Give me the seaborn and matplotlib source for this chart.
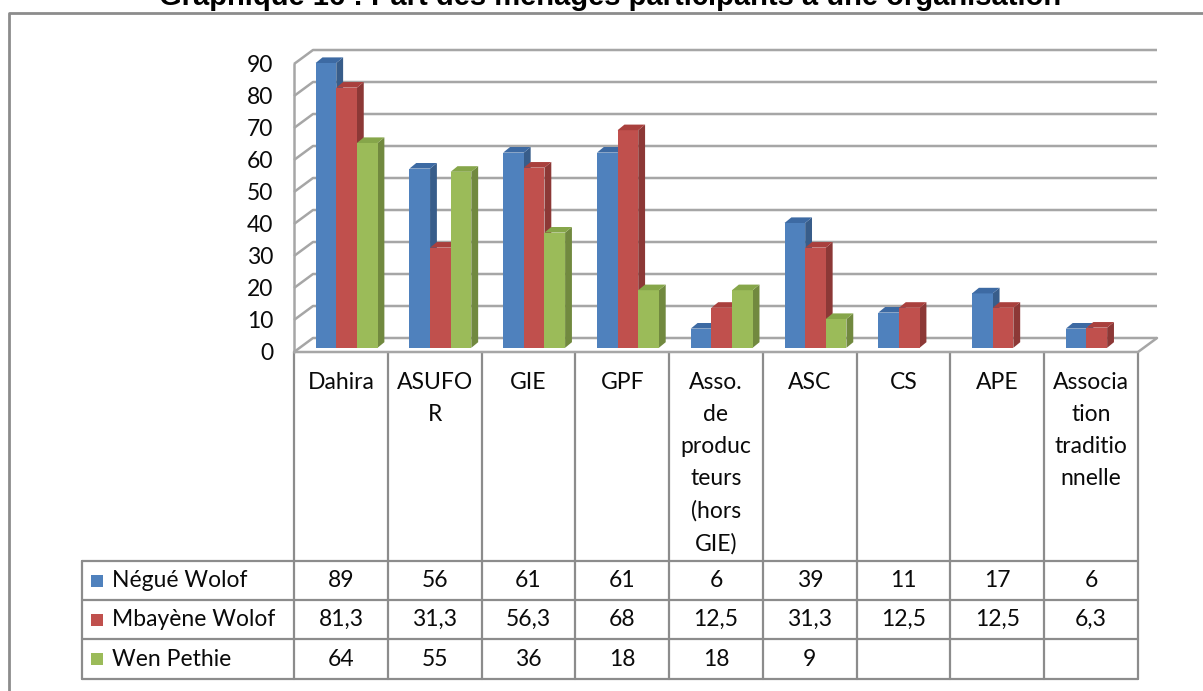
import numpy as np
import pandas as pd
import matplotlib
matplotlib.use("Agg")
import matplotlib.pyplot as plt
import seaborn as sns
from matplotlib.patches import Polygon, Rectangle

# data
categories = ["Dahira", "ASUFOR", "GIE", "GPF", "Asso. de producteurs (hors GIE)",
              "ASC", "CS", "APE", "Association traditionnelle"]
cat_labels = ["Dahira", "ASUFO\nR", "GIE", "GPF", "Asso.\nde\nproduc\nteurs\n(hors\nGIE)",
              "ASC", "CS", "APE", "Associa\ntion\ntraditio\nnnelle"]
series = ["Négué Wolof", "Mbayène Wolof", "Wen Pethie"]
negue_wolof = [89, 56, 61, 61, 6, 39, 11, 17, 6]
mbayene_wolof = [81.3, 31.3, 56.3, 68, 12.5, 31.3, 12.5, 12.5, 6.3]
wen_pethie = [64, 55, 36, 18, 18, 9, np.nan, np.nan, np.nan]
yticks = list(range(0, 100, 10))

colors = ["#4F81BD", "#C0504D", "#9BBB59"]
side_colors = ["#385D8A", "#8C3836", "#71893F"]
top_colors = ["#3D6AA3", "#A9403D", "#86A64A"]

W, H = 1203, 691
FONT = ["Lato", "DejaVu Sans"]
FS = 16.5
TXT = "#0A0A0A"
sns.set_theme(style="white")
plt.rcParams["font.family"] = FONT

fig = plt.figure(figsize=(W / 100, H / 100), dpi=100)

# background axes in pixel coordinates (top-left origin) for frame + table
bg = fig.add_axes([0, 0, 1, 1], zorder=0)
bg.set_xlim(0, W)
bg.set_ylim(H, 0)
bg.axis("off")

# plot area
x0, x1, yb, yt = 294, 1138, 352, 64
ax = fig.add_axes([x0 / W, 1 - yb / H, (x1 - x0) / W, (yb - yt) / H], zorder=2)
ax.patch.set_alpha(0)

df = pd.DataFrame({
    "cat": np.repeat(categories, 3),
    "serie": series * len(categories),
    "val": np.ravel(np.column_stack([negue_wolof, mbayene_wolof, wen_pethie])),
}).dropna()

sns.barplot(data=df, x="cat", y="val", hue="serie", order=categories,
            hue_order=series, palette=colors, width=0.66, saturation=1,
            legend=False, ax=ax, linewidth=0)
ax.set_xlim(-0.5, len(categories) - 0.5)
ax.set_ylim(0, 90)
ax.set_xticks([])
ax.set_yticks(yticks)
ax.set_yticklabels([str(t) for t in yticks], fontsize=FS, color=TXT)
ax.tick_params(axis="y", length=0, pad=15)
for s in ax.spines.values():
    s.set_visible(False)
ax.set_xlabel("")
ax.set_ylabel("")

# 3D depth of the walls (data units)
ddx = 19 / ((x1 - x0) / len(categories))
ddy = 14 / ((yb - yt) / 90)
grid_c = "#A6A6A6"
xl, xr = -0.5, len(categories) - 0.5
for v in yticks:
    ax.plot([xl, xl + ddx, xr + ddx], [v, v + ddy, v + ddy], color=grid_c,
            lw=1.8, clip_on=False, zorder=0.5, solid_capstyle="butt")
ax.plot([xl, xl], [0, 90], color=grid_c, lw=1.8, clip_on=False, zorder=0.5)
ax.plot([xl, xr, xr + ddx], [0, 0, ddy], color=grid_c, lw=1.8, clip_on=False, zorder=0.5)

# turn the flat bars into 3D columns
off_x, off_y = 0.3 * ddx, 0.3 * ddy
dep_x, dep_y = 0.36 * ddx, 0.4 * ddy
bars = [p for p in ax.patches if isinstance(p, Rectangle) and p.get_width() > 0]
bars = sorted(bars, key=lambda p: p.get_x())
for i, p in enumerate(bars):
    fc = p.get_facecolor()[:3]
    idx = int(np.argmin([np.sum((np.array(matplotlib.colors.to_rgb(c)) - fc) ** 2) for c in colors]))
    x, w, h = p.get_x() + off_x, p.get_width(), p.get_height()
    y = off_y
    p.set_x(x)
    p.set_y(y)
    z = 1 + i * 0.01
    p.set_zorder(z + 0.005)
    side = Polygon([(x + w, y), (x + w + dep_x, y + dep_y), (x + w + dep_x, y + h + dep_y), (x + w, y + h)],
                   closed=True, facecolor=side_colors[idx], edgecolor="none", zorder=z, clip_on=False)
    top = Polygon([(x, y + h), (x + dep_x, y + h + dep_y), (x + w + dep_x, y + h + dep_y), (x + w, y + h)],
                  closed=True, facecolor=top_colors[idx], edgecolor="none", zorder=z + 0.006, clip_on=False)
    ax.add_patch(side)
    ax.add_patch(top)
    p.set_clip_on(False)

# column boundaries in pixels, from the data axis
fig.canvas.draw()
edges = [ax.transData.transform((k - 0.5, 0))[0] for k in range(len(categories) + 1)]
line_c = "#8C8C8C"
lw_t = 1.6
row_y = [561, 600, 639, 679]
# category label area
for e in edges:
    bg.plot([e, e], [yb, row_y[-1]], color=line_c, lw=lw_t)
for j, lab in enumerate(cat_labels):
    bg.text((edges[j] + edges[j + 1]) / 2, 372, lab, ha="center", va="top",
            fontsize=FS, linespacing=1.64, color=TXT)
# data rows
leg_x = 82
for yy in row_y:
    bg.plot([leg_x, edges[-1]], [yy, yy], color=line_c, lw=lw_t)
bg.plot([leg_x, leg_x], [row_y[0], row_y[-1]], color=line_c, lw=lw_t)
rows = [negue_wolof, mbayene_wolof, wen_pethie]
for r, (name, vals) in enumerate(zip(series, rows)):
    cy = (row_y[r] + row_y[r + 1]) / 2
    bg.add_patch(Rectangle((91, cy - 6), 12, 12, facecolor=colors[r], edgecolor="none"))
    bg.text(112, cy, name, ha="left", va="center", fontsize=FS, color=TXT)
    for j, v in enumerate(vals):
        if np.isnan(v):
            continue
        s = str(int(v)) if float(v).is_integer() else str(v).replace(".", ",")
        bg.text((edges[j] + edges[j + 1]) / 2, cy, s, ha="center", va="center",
                fontsize=FS, color=TXT)

# outer chart frame
bg.plot([9, 9, W], [H, 13, 13], color="#8C8C8C", lw=2)

# title (cut at the top edge, as in the source)
bg.text(610, 5, "Graphique 16 : Part des ménages participants à une organisation",
        ha="center", va="baseline", fontsize=21, fontweight="bold",
        family=["Liberation Sans", "DejaVu Sans"], color="black")

fig.savefig("out.png", dpi=100)
